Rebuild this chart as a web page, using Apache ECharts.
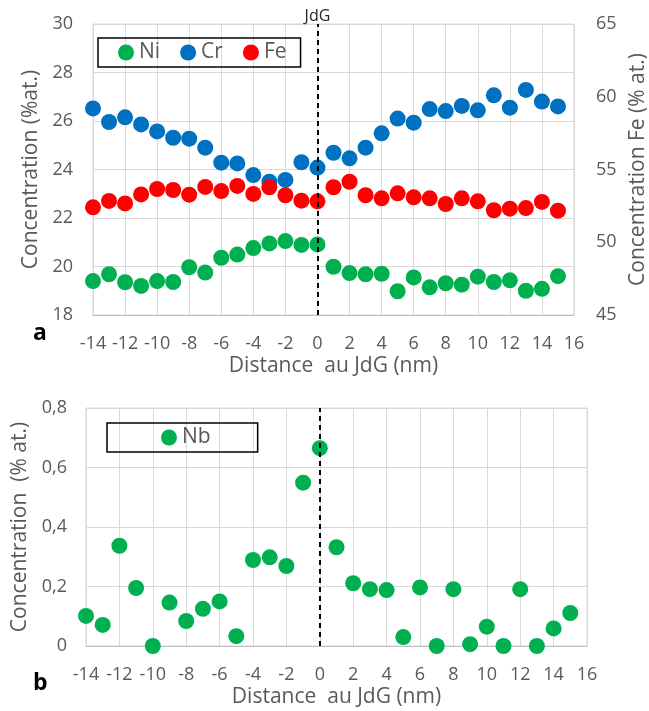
<!DOCTYPE html>
<html><head><meta charset="utf-8">
<script src="https://cdn.jsdelivr.net/npm/echarts@6/dist/echarts.min.js"></script>
<style>html,body{margin:0;padding:0;background:#fff}#c{width:649px;height:711px}</style>
</head><body><div id="c"></div>
<script>
const distances = [-14,-13,-12,-11,-10,-9,-8,-7,-6,-5,-4,-3,-2,-1,0,1,2,3,4,5,6,7,8,9,10,11,12,13,14,15];
const ni = [19.40,19.68,19.35,19.20,19.40,19.36,19.97,19.75,20.36,20.49,20.76,20.95,21.05,20.89,20.91,19.99,19.73,19.68,19.70,18.98,19.55,19.14,19.31,19.25,19.58,19.36,19.43,19.00,19.08,19.60];
const cr = [26.52,25.96,26.15,25.86,25.57,25.31,25.27,24.90,24.28,24.25,23.77,23.50,23.57,24.30,24.08,24.69,24.46,24.90,25.49,26.10,25.93,26.49,26.41,26.62,26.44,27.06,26.55,27.28,26.80,26.60];
const fe = [52.40,52.84,52.67,53.29,53.66,53.59,53.27,53.80,53.52,53.87,53.32,53.78,53.23,52.86,52.81,53.78,54.16,53.23,53.02,53.36,53.09,53.02,52.63,53.02,52.81,52.20,52.31,52.35,52.77,52.17];
const nb = [0.101,0.071,0.337,0.195,0.000,0.146,0.084,0.125,0.150,0.033,0.289,0.298,0.269,0.549,0.665,0.332,0.211,0.191,0.188,0.030,0.197,0.000,0.191,0.006,0.065,0.000,0.191,0.000,0.059,0.111];
const xTicks = {min:-14, max:16, step:2};
const leftTicks = {min:18, max:30, step:2};
const rightTicks = {min:45, max:65, step:5};
const nbTicks = {min:0, max:0.8, step:0.2};

const FONT = 'Open Sans';
const GREY = '#595959';
const GRID = '#d9d9d9';
const TITLE_SIZE = 21;
const pair = arr => distances.map((d,i)=>[d,arr[i]]);

const chart = echarts.init(document.getElementById('c'), null, {renderer:'canvas'});
const xAxisBase = (gi) => ({
  type:'value', gridIndex:gi, min:xTicks.min, max:xTicks.max, interval:xTicks.step,
  name:'Distance  au JdG (nm)', nameLocation:'middle', nameGap: 41,
  nameTextStyle:{color:GREY, fontSize:TITLE_SIZE, fontFamily:FONT},
  axisLine:{show:true, lineStyle:{color:'#bfbfbf', width:1}}, axisTick:{show:false},
  axisLabel:{color:GREY, fontSize:18, fontFamily:FONT, margin:20},
  splitLine:{show:true, lineStyle:{color:GRID, width:1}}
});
const dashLine = (labelText) => ({
  silent:true, symbol:['none','none'],
  lineStyle:{color:'#000', type:[5,4], width:2},
  label:{show: !!labelText, formatter: labelText || '', position:'end', color:'#262626', fontSize:16, fontFamily:FONT, distance:0},
  data:[{xAxis:0}]
});
const option = {
  animation:false,
  backgroundColor:'#fff',
  textStyle:{fontFamily:FONT},
  grid:[
    {left:93, right:75, top:24, height:291, show:true, borderColor:GRID, borderWidth:1, containLabel:false, outerBoundsMode:'none'},
    {left:86, right:62, top:408, height:238, show:true, borderColor:GRID, borderWidth:1, containLabel:false, outerBoundsMode:'none'}
  ],
  legend:[
    {data:['Ni','Cr','Fe'], left:98, top:38, orient:'horizontal', icon:'circle', itemWidth:16, itemHeight:16, itemGap:20, itemStyle:{opacity:1},
     padding:[4,14,4,20], borderColor:'#000', borderWidth:1.5, textStyle:{color:GREY, fontSize:TITLE_SIZE, fontFamily:FONT}},
    {data:['Nb'], left:107, top:423, icon:'circle', itemWidth:16, itemHeight:16, itemStyle:{opacity:1},
     padding:[4,47,4,54], borderColor:'#000', borderWidth:1.5, textStyle:{color:GREY, fontSize:TITLE_SIZE, fontFamily:FONT}}
  ],
  xAxis:[xAxisBase(0), xAxisBase(1)],
  yAxis:[
    {type:'value', gridIndex:0, min:leftTicks.min, max:leftTicks.max, interval:leftTicks.step,
     name:'Concentration (%at.)', nameLocation:'middle', nameGap:50, nameTextStyle:{color:GREY, fontSize:TITLE_SIZE, fontFamily:FONT},
     axisLine:{show:false}, axisTick:{show:false}, axisLabel:{color:GREY, fontSize:18, fontFamily:FONT, margin:20},
     splitLine:{show:true, lineStyle:{color:GRID}}},
    {type:'value', gridIndex:0, position:'right', min:rightTicks.min, max:rightTicks.max, interval:rightTicks.step,
     name:'Concentration Fe (% at.)', nameLocation:'middle', nameGap:45, nameRotate:90, nameTextStyle:{color:GREY, fontSize:TITLE_SIZE, fontFamily:FONT},
     axisLine:{show:false}, axisTick:{show:false}, axisLabel:{color:GREY, fontSize:18, fontFamily:FONT, margin:22},
     splitLine:{show:false}},
    {type:'value', gridIndex:1, min:nbTicks.min, max:nbTicks.max, interval:nbTicks.step,
     name:'Concentration  (% at.)', nameLocation:'middle', nameGap:54, nameTextStyle:{color:GREY, fontSize:TITLE_SIZE, fontFamily:FONT},
     axisLine:{show:false}, axisTick:{show:false},
     axisLabel:{color:GREY, fontSize:18, fontFamily:FONT, margin:19, formatter: v => String(Math.round(v*10)/10).replace('.',',')},
     splitLine:{show:true, lineStyle:{color:GRID}}}
  ],
  series:[
    {name:'Ni', type:'scatter', xAxisIndex:0, yAxisIndex:0, data:pair(ni), symbolSize:16, itemStyle:{color:'#00B050', opacity:1},
     markLine: dashLine('JdG')},
    {name:'Cr', type:'scatter', xAxisIndex:0, yAxisIndex:0, data:pair(cr), symbolSize:16, itemStyle:{color:'#0070C0', opacity:1}},
    {name:'Fe', type:'scatter', xAxisIndex:0, yAxisIndex:1, data:pair(fe), symbolSize:16, itemStyle:{color:'#FF0000', opacity:1}},
    {name:'Nb', type:'scatter', xAxisIndex:1, yAxisIndex:2, data:pair(nb), symbolSize:16, itemStyle:{color:'#00B050', opacity:1},
     markLine: dashLine('')}
  ],
  graphic:[
    {type:'text', left:33, top:322, style:{text:'a', fill:'#000', font:'bold 23px "Open Sans"'}},
    {type:'text', left:33, top:672, style:{text:'b', fill:'#000', font:'bold 23px "Open Sans"'}}
  ]
};
chart.setOption(option);
</script></body></html>
